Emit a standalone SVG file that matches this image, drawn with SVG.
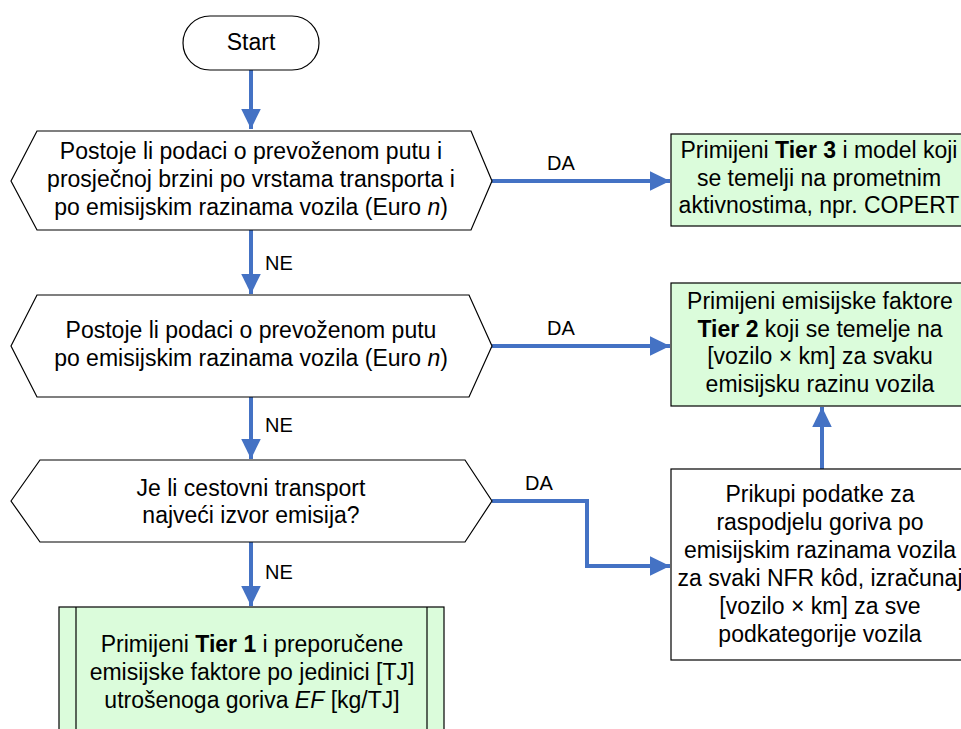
<svg xmlns="http://www.w3.org/2000/svg" width="961" height="729" viewBox="0 0 961 729">
<defs>
<style>
.n{fill:#fff;stroke:#000;stroke-width:1.2}
.g{fill:#DBFCDB;stroke:#000;stroke-width:1.2}
.t{font-family:"Liberation Sans",Arial,sans-serif;font-size:23px;fill:#000;text-anchor:middle}
.l{font-family:"Liberation Sans",Arial,sans-serif;font-size:20px;fill:#000}
.c{fill:none;stroke:#4472C4;stroke-width:4}
.b{font-weight:bold}
.i{font-style:italic}
</style>
<marker id="ah" markerWidth="5" markerHeight="5" refX="4.5" refY="2.2" orient="auto" markerUnits="strokeWidth" viewBox="0 0 4.5 4.4">
<path d="M0,0 L4.5,2.2 L0,4.4 Z" fill="#4472C4"/>
</marker>
</defs>
<rect width="961" height="729" fill="#fff"/>
<g id="connectors">
<path class="c" d="M251,70 V129" marker-end="url(#ah)"/>
<path class="c" d="M251,230 V294" marker-end="url(#ah)"/>
<path class="c" d="M251,397 V459" marker-end="url(#ah)"/>
<path class="c" d="M251,542 V606" marker-end="url(#ah)"/>
<path class="c" d="M492,181 H670" marker-end="url(#ah)"/>
<path class="c" d="M492,346 H670" marker-end="url(#ah)"/>
<path class="c" d="M492,501 H587 V566 H670" marker-end="url(#ah)"/>
<path class="c" d="M822,469 V407" marker-end="url(#ah)"/>
<text class="l" x="547" y="170">DA</text>
<text class="l" x="547" y="335">DA</text>
<text class="l" x="525" y="490">DA</text>
<text class="l" x="265" y="270">NE</text>
<text class="l" x="265" y="432">NE</text>
<text class="l" x="265" y="579">NE</text>
</g>
<g id="start">
<rect class="n" x="183" y="16" width="136" height="54" rx="27" ry="27"/>
<text class="t" x="251" y="50">Start</text>
</g>
<g id="decision1">
<polygon class="n" points="11,181 37,131 471,131 492,181 471,230 37,230"/>
<text class="t" x="251" y="159">Postoje li podaci o prevoženom putu i</text>
<text class="t" x="251" y="187">prosječnoj brzini po vrstama transporta i</text>
<text class="t" x="251" y="215">po emisijskim razinama vozila (Euro <tspan class="i">n</tspan>)</text>
</g>
<g id="decision2">
<polygon class="n" points="11,346 37,295 469,295 492,346 469,397 37,397"/>
<text class="t" x="251" y="338">Postoje li podaci o prevoženom putu</text>
<text class="t" x="251" y="366">po emisijskim razinama vozila (Euro <tspan class="i">n</tspan>)</text>
</g>
<g id="decision3">
<polygon class="n" points="11,501 40,460 465,460 492,501 465,542 40,542"/>
<text class="t" x="251" y="496">Je li cestovni transport</text>
<text class="t" x="251" y="523">najveći izvor emisija?</text>
</g>
<g id="tier3">
<rect class="g" x="671" y="134" width="300" height="92"/>
<text class="t" x="819" y="158">Primijeni <tspan class="b">Tier 3</tspan> i model koji</text>
<text class="t" x="819" y="186">se temelji na prometnim</text>
<text class="t" x="819" y="213">aktivnostima, npr. COPERT</text>
</g>
<g id="tier2">
<rect class="g" x="671" y="283" width="300" height="123"/>
<text class="t" x="820" y="309">Primijeni emisijske faktore</text>
<text class="t" x="820" y="337"><tspan class="b">Tier 2</tspan> koji se temelje na</text>
<text class="t" x="820" y="364">[vozilo × km] za svaku</text>
<text class="t" x="820" y="392">emisijsku razinu vozila</text>
</g>
<g id="prikupi">
<rect class="n" x="671" y="469" width="300" height="191"/>
<text class="t" x="820" y="502">Prikupi podatke za</text>
<text class="t" x="820" y="530">raspodjelu goriva po</text>
<text class="t" x="820" y="558">emisijskim razinama vozila</text>
<text class="t" x="820" y="586">za svaki NFR kôd, izračunaj</text>
<text class="t" x="820" y="614">[vozilo × km] za sve</text>
<text class="t" x="820" y="642">podkategorije vozila</text>
</g>
<g id="tier1">
<rect class="g" x="59" y="607" width="385" height="140"/>
<line x1="76" y1="607" x2="76" y2="740" stroke="#000" stroke-width="1.2"/>
<line x1="427" y1="607" x2="427" y2="740" stroke="#000" stroke-width="1.2"/>
<text class="t" x="252" y="652">Primijeni <tspan class="b">Tier 1</tspan> i preporučene</text>
<text class="t" x="252" y="680">emisijske faktore po jedinici [TJ]</text>
<text class="t" x="252" y="708">utrošenoga goriva <tspan class="i">EF</tspan> [kg/TJ]</text>
</g>
</svg>
